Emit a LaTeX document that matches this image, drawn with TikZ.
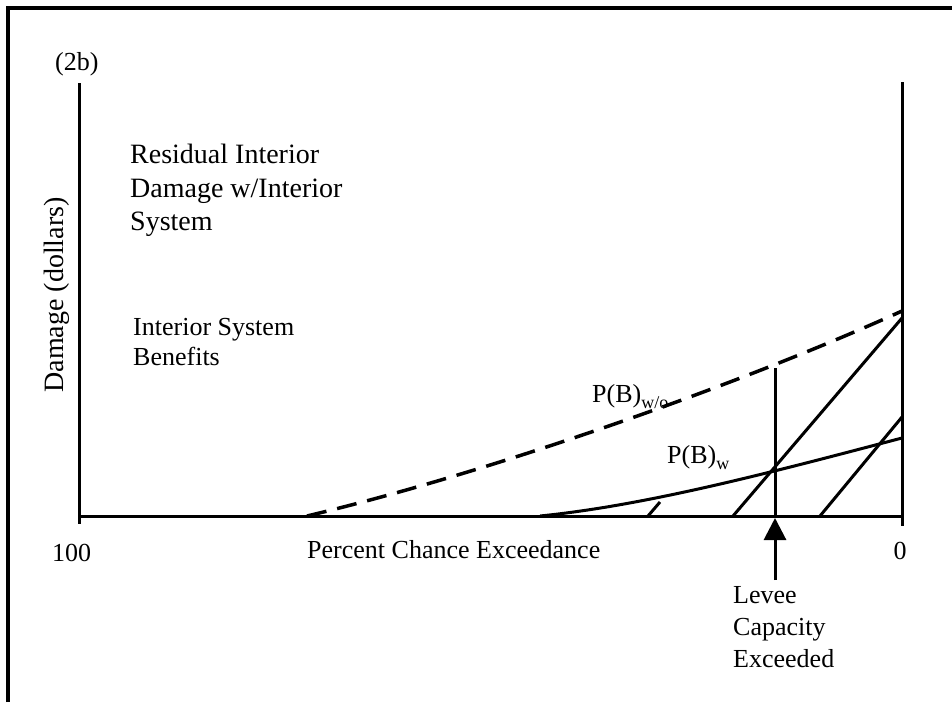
\documentclass[tikz,border=0pt]{standalone}
\usepackage{fontspec}
\setmainfont{Liberation Serif}
\usetikzlibrary{arrows.meta}
\begin{document}
\begin{tikzpicture}[x=1pt,y=-1pt,
  frameline/.style={line width=4pt},
  axisline/.style={line width=3pt},
  curveline/.style={line width=3pt},
  dashcurve/.style={line width=3.5pt, dash pattern=on 20pt off 11pt},
  hatchline/.style={line width=3pt},
  lbl/.style={inner sep=0pt, anchor=base west, font=\fontsize{26}{26}\selectfont},
  biglbl/.style={inner sep=0pt, anchor=base west, font=\fontsize{28}{28}\selectfont},
  sub/.style={}]
\useasboundingbox (0,0) rectangle (952,702);
% frame
\coordinate (fbl) at (8,702);
\coordinate (ftl) at (8,8);
\coordinate (ftr) at (952,8);
\draw[frameline] (fbl) -- (ftl) -- (ftr);
% axes
\coordinate (ltop) at (79,83);
\coordinate (lbot) at (79,524);
\coordinate (rtop) at (902,82);
\coordinate (rbot) at (902,526);
\coordinate (b0) at (79,516);
\coordinate (b1) at (902,516);
\draw[axisline] (ltop) -- (lbot);
\draw[axisline] (rtop) -- (rbot);
\draw[axisline] (b0) -- (b1);
% curves
\coordinate (d0) at (307,516);
\coordinate (d1) at (902,311);
\draw[dashcurve] (d0) .. controls (500,470) and (750,380) .. (d1);
\coordinate (s0) at (540,516);
\coordinate (s1) at (902,438);
\draw[curveline] (s0) .. controls (650,505) and (780,470) .. (s1);
% levee vertical
\coordinate (vt) at (775,368);
\coordinate (vb) at (775,516);
\draw[axisline] (vt) -- (vb);
% hatching
\coordinate (h1a) at (648,516); \coordinate (h1b) at (660,502);
\coordinate (h2a) at (733,516); \coordinate (h2b) at (902,318);
\coordinate (h3a) at (820,516); \coordinate (h3b) at (902,417);
\draw[hatchline] (h1a) -- (h1b);
\draw[hatchline] (h2a) -- (h2b);
\draw[hatchline] (h3a) -- (h3b);
% arrow
\coordinate (at) at (775,580);
\coordinate (ah) at (775,518);
\draw[axisline, -{Triangle[length=22pt,width=22pt]}] (at) -- (ah);
% texts
\node[lbl] (t2b) at (55,70) {(2b)};
\node[biglbl] (r1) at (130,163) {Residual Interior};
\node[biglbl] (r2) at (130,197) {Damage w/Interior};
\node[biglbl] (r3) at (130,230) {System};
\node[lbl] (i1) at (133,335) {Interior System};
\node[lbl] (i2) at (133,365) {Benefits};
\node[inner sep=0pt, anchor=base, rotate=90, font=\fontsize{28}{28}\selectfont] (ylab) at (63,295) {Damage (dollars)};
\node[lbl] (pwo) at (592,402) {P(B)\raisebox{-6pt}{\fontsize{18}{18}\selectfont w/o}};
\node[lbl] (pw) at (667,463) {P(B)\raisebox{-6pt}{\fontsize{18}{18}\selectfont w}};
\node[lbl] (x100) at (52,561) {100};
\node[lbl, anchor=base] (x0) at (900,559) {0};
\node[lbl] (xlab) at (307,558) {Percent Chance Exceedance};
\node[lbl] (lv1) at (733,603) {Levee};
\node[lbl] (lv2) at (733,635) {Capacity};
\node[lbl] (lv3) at (733,667) {Exceeded};
\end{tikzpicture}
\end{document}
